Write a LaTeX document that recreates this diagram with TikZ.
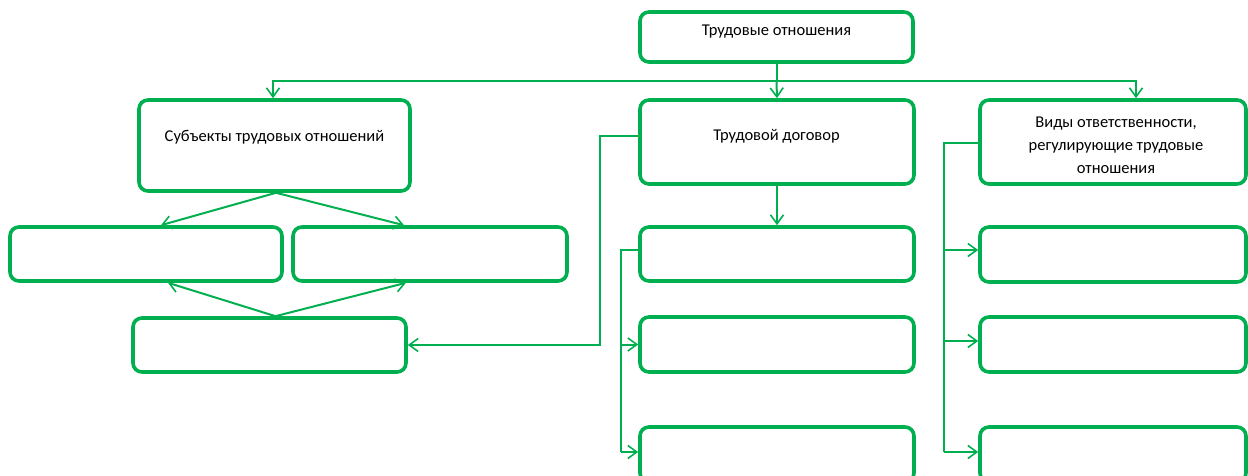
\documentclass[tikz,border=0pt]{standalone}
\usepackage{fontspec}
\setmainfont{Carlito}
\usetikzlibrary{arrows.meta}
\definecolor{grn}{RGB}{0,176,80}
\begin{document}
\begin{tikzpicture}[x=1pt,y=-1pt,
  box/.style={draw=grn,line width=3.6pt,rounded corners=9pt,inner sep=0pt,fill=white},
  conn/.style={draw=grn,line width=2pt},
  arr/.style={conn,-{Straight Barb[length=9pt,width=13pt,line width=1.6pt]}},
  lbl/.style={font=\fontsize{16.5}{23}\selectfont,align=center,text=black,inner sep=0pt}]
\useasboundingbox (0,0) rectangle (1248,476);
% boxes
\node[box,minimum width=273pt,minimum height=50pt] (top) at (776.5,37) {};
\node[box,minimum width=271pt,minimum height=91pt] (subj) at (274.5,145.5) {};
\node[box,minimum width=274pt,minimum height=84pt] (dog) at (777,142) {};
\node[box,minimum width=266pt,minimum height=84pt] (vid) at (1113,142) {};
\node[box,minimum width=272pt,minimum height=54pt] (A) at (146,254) {};
\node[box,minimum width=274pt,minimum height=54pt] (B) at (430,254) {};
\node[box,minimum width=273pt,minimum height=54pt] (C) at (269.5,345) {};
\node[box,minimum width=274pt,minimum height=54pt] (D) at (777,254) {};
\node[box,minimum width=274pt,minimum height=55pt] (E) at (777,344.5) {};
\node[box,minimum width=274pt,minimum height=55pt] (F) at (777,454.5) {};
\node[box,minimum width=266pt,minimum height=55pt] (G) at (1113,254.5) {};
\node[box,minimum width=266pt,minimum height=55pt] (H) at (1113,344.5) {};
\node[box,minimum width=266pt,minimum height=55pt] (I) at (1113,454.5) {};
% labels
\node[lbl,anchor=base] (ttop) at (776.5,36) {Трудовые отношения};
\node[lbl,anchor=base] (tsubj) at (274.5,142) {Субъекты трудовых отношений};
\node[lbl,anchor=base] (tdog) at (776.5,141) {Трудовой договор};
\node[lbl] (tvid) at (1116,145) {Виды ответственности,\\регулирующие трудовые\\отношения};
% junction coordinates
\coordinate (bus) at (776.5,81);
\coordinate (dj) at (600,0);
\coordinate (lj) at (621,0);
\coordinate (rj) at (944,0);
% top level
\draw[conn] (top.south) -- (bus);
\draw[arr] (bus) -- (dog.north);
\draw[arr] (bus) -| ([xshift=-1.5pt]subj.north);
\draw[arr] (bus) -| ([xshift=23pt]vid.north);
% subjects
\draw[arr] ([xshift=1.5pt]subj.south) -- ([xshift=15pt]A.north);
\draw[arr] ([xshift=1.5pt]subj.south) -- ([xshift=-26pt]B.north);
\draw[arr] ([xshift=6pt]C.north) -- ([xshift=22pt]A.south);
\draw[arr] ([xshift=6pt]C.north) -- ([xshift=-24pt]B.south);
% contract to C
\draw[arr] ([yshift=6pt]dog.west) -| (dj |- C.east) -- (C.east);
% contract branch
\draw[arr] (dog.south) -- (D.north);
\draw[conn] ([yshift=4pt]D.west) -| ([yshift=2.5pt]lj |- F.west);
\draw[arr] (lj |- E.west) -- (E.west);
\draw[arr] ([yshift=2.5pt]lj |- F.west) -- ([yshift=2.5pt]F.west);
% responsibility branch
\draw[conn] ([yshift=-1pt]vid.west) -| ([yshift=2.5pt]rj |- I.west);
\draw[arr] ([yshift=4.5pt]rj |- G.west) -- ([yshift=4.5pt]G.west);
\draw[arr] ([yshift=3.5pt]rj |- H.west) -- ([yshift=3.5pt]H.west);
\draw[arr] ([yshift=2.5pt]rj |- I.west) -- ([yshift=2.5pt]I.west);
\end{tikzpicture}
\end{document}
